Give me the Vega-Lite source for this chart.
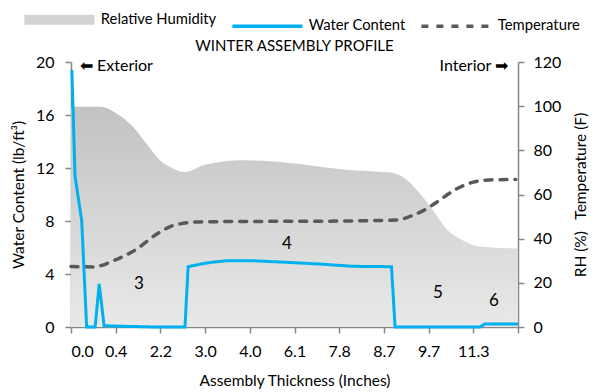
{
  "$schema": "https://vega.github.io/schema/vega-lite/v6.json",
  "width": 447,
  "height": 265,
  "autosize": "none",
  "padding": {"left": 71, "top": 62, "right": 74, "bottom": 65},
  "background": "white",
  "config": {
    "font": "Lato",
    "view": {"stroke": null},
    "axis": {
      "grid": false,
      "domainColor": "#878787",
      "tickColor": "#878787",
      "domainWidth": 1.5,
      "tickWidth": 1.5,
      "tickSize": 6,
      "labelFont": "Lato",
      "labelFontSize": 16,
      "labelColor": "#000000",
      "titleFont": "Lato",
      "titleFontSize": 15.5,
      "titleFontWeight": "normal",
      "titleColor": "#000000"
    }
  },
  "title": {
    "text": "WINTER ASSEMBLY PROFILE",
    "font": "Lato",
    "fontSize": 15,
    "fontWeight": "normal",
    "color": "#000000",
    "anchor": "middle",
    "offset": -42
  },
  "datasets": {
    "rh": [
      {"x": 0, "v": 99.7}, {"x": 0.65, "v": 99.7}, {"x": 1.02, "v": 96.7}, {"x": 1.39, "v": 90.6},
      {"x": 1.69, "v": 83}, {"x": 1.99, "v": 75.5}, {"x": 2.29, "v": 71.7}, {"x": 2.55, "v": 70.1},
      {"x": 2.96, "v": 73.2}, {"x": 3.33, "v": 74.7}, {"x": 3.78, "v": 75.5}, {"x": 4.45, "v": 75.1},
      {"x": 5.2, "v": 73.6}, {"x": 5.94, "v": 71.7}, {"x": 7.06, "v": 70.1}, {"x": 7.14, "v": 70.0},
      {"x": 7.43, "v": 67.9}, {"x": 7.81, "v": 60.3}, {"x": 8.1, "v": 52.7}, {"x": 8.4, "v": 44.4},
      {"x": 8.78, "v": 39.1}, {"x": 9.15, "v": 36.4}, {"x": 9.93, "v": 35.6}, {"x": 10, "v": 35.6}
    ],
    "temp": [
      {"x": 0, "v": 27.4, "series": "Temperature"}, {"x": 0.5, "v": 27.2, "series": "Temperature"},
      {"x": 0.95, "v": 30, "series": "Temperature"}, {"x": 1.47, "v": 35.3, "series": "Temperature"},
      {"x": 1.92, "v": 42.1, "series": "Temperature"}, {"x": 2.36, "v": 46.4, "series": "Temperature"},
      {"x": 2.9, "v": 47.6, "series": "Temperature"}, {"x": 4, "v": 47.8, "series": "Temperature"},
      {"x": 5.5, "v": 47.9, "series": "Temperature"}, {"x": 6.5, "v": 48.1, "series": "Temperature"},
      {"x": 7.3, "v": 48.5, "series": "Temperature"}, {"x": 7.6, "v": 50.2, "series": "Temperature"},
      {"x": 7.88, "v": 52.7, "series": "Temperature"}, {"x": 8.18, "v": 56.5, "series": "Temperature"},
      {"x": 8.63, "v": 62.6, "series": "Temperature"}, {"x": 9.0, "v": 65.6, "series": "Temperature"},
      {"x": 9.37, "v": 66.6, "series": "Temperature"}, {"x": 9.95, "v": 66.8, "series": "Temperature"}
    ],
    "wc": [
      {"x": 0.02, "v": 19.4, "series": "Water Content"}, {"x": 0.09, "v": 11.4, "series": "Water Content"},
      {"x": 0.24, "v": 8.0, "series": "Water Content"}, {"x": 0.35, "v": 0, "series": "Water Content"},
      {"x": 0.54, "v": 0, "series": "Water Content"}, {"x": 0.63, "v": 3.25, "series": "Water Content"},
      {"x": 0.74, "v": 0.1, "series": "Water Content"}, {"x": 1.2, "v": 0.05, "series": "Water Content"},
      {"x": 1.9, "v": 0, "series": "Water Content"}, {"x": 2.55, "v": 0, "series": "Water Content"},
      {"x": 2.62, "v": 4.55, "series": "Water Content"}, {"x": 2.9, "v": 4.75, "series": "Water Content"},
      {"x": 3.11, "v": 4.87, "series": "Water Content"}, {"x": 3.48, "v": 5.0, "series": "Water Content"},
      {"x": 4.07, "v": 5.0, "series": "Water Content"}, {"x": 4.83, "v": 4.88, "series": "Water Content"},
      {"x": 5.57, "v": 4.75, "series": "Water Content"}, {"x": 6.31, "v": 4.58, "series": "Water Content"},
      {"x": 7.17, "v": 4.55, "series": "Water Content"}, {"x": 7.25, "v": 0, "series": "Water Content"},
      {"x": 8.5, "v": 0, "series": "Water Content"}, {"x": 9.15, "v": 0, "series": "Water Content"},
      {"x": 9.25, "v": 0.22, "series": "Water Content"}, {"x": 10, "v": 0.22, "series": "Water Content"}
    ],
    "notesC": [
      {"x": 1.52, "v": 3.26, "t": "3"}, {"x": 4.83, "v": 6.29, "t": "4"},
      {"x": 8.21, "v": 2.58, "t": "5"}, {"x": 9.46, "v": 1.97, "t": "6"}
    ],
    "notesL": [{"x": 0.2, "v": 19.7, "t": "⬅ Exterior"}],
    "notesR": [{"x": 9.78, "v": 19.7, "t": "Interior ➡"}]
  },
  "layer": [
    {
      "encoding": {
        "x": {
          "field": "x", "type": "quantitative",
          "scale": {"domain": [0, 10], "nice": false, "zero": false},
          "axis": {
            "values": [0, 1, 2, 3, 4, 5, 6, 7, 8, 9, 10],
            "labelExpr": "['0.0','0.4','2.2','3.0','4.0','6.1','7.8','8.7','9.7','11.3',''][datum.value]",
            "title": "Assembly Thickness (Inches)",
            "labelPadding": 10,
            "titlePadding": 14
          }
        },
        "y": {
          "field": "v", "type": "quantitative",
          "scale": {"domain": [0, 120], "nice": false},
          "axis": {
            "orient": "right",
            "values": [0, 20, 40, 60, 80, 100, 120],
            "title": "RH (%)\u00a0\u00a0 Temperature (F)",
            "titleAngle": 270,
            "titleBaseline": "top",
            "labelPadding": 9,
            "titlePadding": 13
          }
        }
      },
      "layer": [
        {
          "data": {"name": "rh"},
          "mark": {
            "type": "area",
            "interpolate": "monotone",
            "fill": {
              "gradient": "linear", "x1": 0, "y1": 0, "x2": 0, "y2": 1,
              "stops": [{"offset": 0, "color": "#c2c2c2"}, {"offset": 1, "color": "#e9e9e9"}]
            }
          }
        },
        {
          "data": {"name": "temp"},
          "mark": {"type": "line", "interpolate": "monotone", "strokeWidth": 3.5, "strokeCap": "round"},
          "encoding": {
            "color": {
              "field": "series", "type": "nominal",
              "scale": {"domain": ["Relative Humidity", "Water Content", "Temperature"], "range": ["#d3d3d3", "#00B0F0", "#595959"]},
              "legend": {
                "title": null, "orient": "none", "legendX": -19, "legendY": -50, "direction": "horizontal",
                "symbolType": "stroke", "symbolSize": 4900, "symbolStrokeWidth": 3.5,
                "labelFont": "Lato", "labelFontSize": 14.8, "labelColor": "#000000", "labelOffset": 34, "columnPadding": 8,
                "encode": {"symbols": {"update": {"strokeWidth": {"signal": "datum.value === 'Relative Humidity' ? 10 : 3.5"}}}}
              }
            },
            "strokeDash": {
              "field": "series", "type": "nominal",
              "scale": {"domain": ["Relative Humidity", "Water Content", "Temperature"], "range": [[1, 0], [1, 0], [7, 8]]},
              "legend": {
                "title": null, "orient": "none", "legendX": -19, "legendY": -50, "direction": "horizontal",
                "symbolType": "stroke", "symbolSize": 4900, "symbolStrokeWidth": 3.5,
                "labelFont": "Lato", "labelFontSize": 14.8, "labelColor": "#000000", "labelOffset": 34, "columnPadding": 8,
                "encode": {"symbols": {"update": {"strokeWidth": {"signal": "datum.value === 'Relative Humidity' ? 10 : 3.5"}}}}
              }
            }
          }
        }
      ]
    },
    {
      "encoding": {
        "x": {"field": "x", "type": "quantitative", "scale": {"domain": [0, 10], "nice": false, "zero": false}},
        "y": {
          "field": "v", "type": "quantitative",
          "scale": {"domain": [0, 20], "nice": false},
          "axis": {
            "orient": "left",
            "values": [0, 4, 8, 12, 16, 20],
            "title": "Water Content (lb/ft³)",
            "labelPadding": 11,
            "titlePadding": 9
          }
        }
      },
      "layer": [
        {
          "data": {"name": "wc"},
          "mark": {"type": "line", "strokeWidth": 3, "strokeJoin": "miter"},
          "encoding": {
            "color": {"field": "series", "type": "nominal"},
            "strokeDash": {"field": "series", "type": "nominal"}
          }
        },
        {
          "data": {"name": "notesC"},
          "mark": {"type": "text", "font": "Lato", "fontSize": 17, "align": "center", "baseline": "middle", "color": "#000000"},
          "encoding": {"text": {"field": "t"}}
        },
        {
          "data": {"name": "notesL"},
          "mark": {"type": "text", "font": "Lato", "fontSize": 16, "align": "left", "baseline": "middle", "color": "#000000"},
          "encoding": {"text": {"field": "t"}}
        },
        {
          "data": {"name": "notesR"},
          "mark": {"type": "text", "font": "Lato", "fontSize": 16, "align": "right", "baseline": "middle", "color": "#000000"},
          "encoding": {"text": {"field": "t"}}
        }
      ]
    }
  ],
  "resolve": {"scale": {"y": "independent"}}
}
